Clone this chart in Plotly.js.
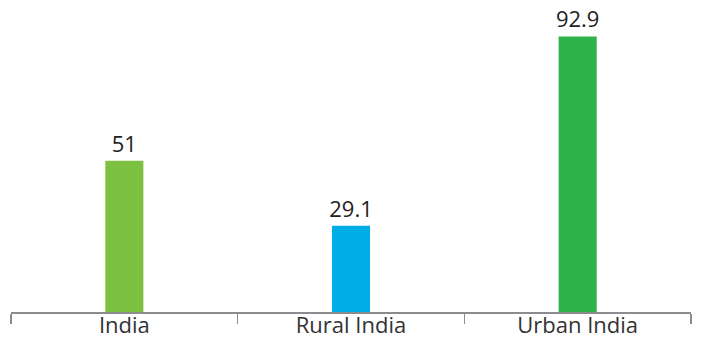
<!DOCTYPE html>
<html><head><meta charset="utf-8">
<script src="https://cdn.plot.ly/plotly-3.0.1.min.js"></script>
<style>html,body{margin:0;padding:0;background:#fff}</style>
</head><body>
<div id="chart" style="width:701px;height:341px"></div>
<script>
const categories = ["India", "Rural India", "Urban India"];
const values = [51, 29.1, 92.9];
const labels = ["51", "29.1", "92.9"];
const colors = ["#7dc142", "#00ade6", "#2db34a"];

Plotly.newPlot("chart", [{
  type: "bar",
  x: categories,
  y: values,
  text: labels,
  textposition: "outside",
  constraintext: "none",
  cliponaxis: false,
  textfont: {family: "Open Sans", size: 22, color: "#222"},
  marker: {color: colors},
  width: 0.168,
  hoverinfo: "none"
}], {
  width: 701, height: 341,
  margin: {l: 11, r: 10, t: 10, b: 29},
  paper_bgcolor: "#fff", plot_bgcolor: "#fff",
  showlegend: false,
  xaxis: {
    showline: true, linecolor: "#8a8c8f", linewidth: 2,
    ticks: "outside", tickson: "boundaries", ticklen: 10, tickcolor: "#8a8c8f", tickwidth: 1.5,
    tickfont: {family: "Open Sans", size: 22, color: "#333"},
    ticklabelstandoff: -7,
    showgrid: false, zeroline: false
  },
  yaxis: {
    range: [0, 101.8], visible: false, showgrid: false, zeroline: false
  }
}, {displayModeBar: false, staticPlot: true});
</script>
</body></html>
